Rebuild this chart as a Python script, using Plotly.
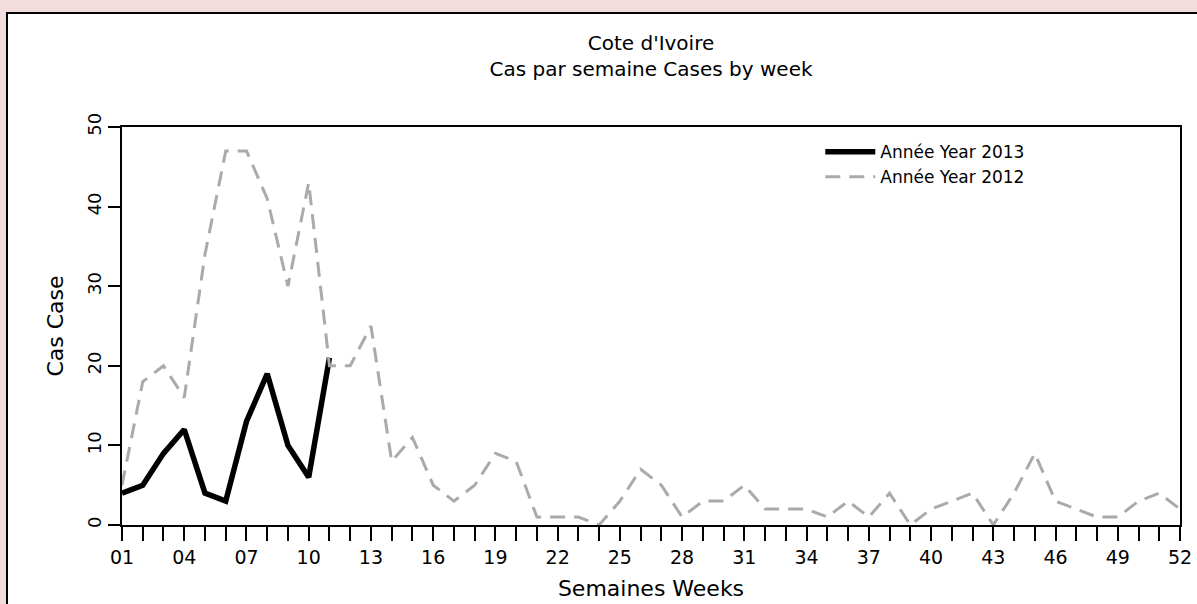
import plotly.graph_objects as go

# Weekly case counts
weeks = list(range(1, 53))
cases_2013 = [4, 5, 9, 12, 4, 3, 13, 19, 10, 6, 21]
cases_2012 = [5, 18, 20, 16, 34, 47, 47, 41, 30, 43, 20, 20, 25, 8, 11, 5, 3, 5, 9, 8,
              1, 1, 1, 0, 3, 7, 5, 1, 3, 3, 5, 2, 2, 2, 1, 3, 1, 4, 0, 2,
              3, 4, 0, 4, 9, 3, 2, 1, 1, 3, 4, 2]
x_tick_weeks = list(range(1, 53, 3))
y_ticks = [0, 10, 20, 30, 40, 50]

font_family = "DejaVu Sans, Verdana, sans-serif"

fig = go.Figure()

fig.add_trace(go.Scatter(
    x=weeks[:len(cases_2013)], y=cases_2013,
    mode="lines", name="Année Year 2013",
    line=dict(color="black", width=5.5),
))
fig.add_trace(go.Scatter(
    x=weeks, y=cases_2012,
    mode="lines", name="Année Year 2012",
    line=dict(color="#aaaaaa", width=3, dash="15px,9px"),
))

# white panel with black frame on the pink page
fig.add_shape(
    type="rect", xref="paper", yref="paper",
    x0=-0.1087, x1=1.1, y0=-0.25, y1=1.2864,
    fillcolor="white", line=dict(color="black", width=2), layer="below",
)

fig.update_layout(
    width=1197,
    height=604,
    paper_bgcolor="#f2dcdc",
    plot_bgcolor="white",
    margin=dict(l=122, r=17, t=127, b=79),
    font=dict(family=font_family, size=18, color="black"),
    title=dict(
        text="Cote d'Ivoire<br>Cas par semaine Cases by week",
        x=0.5, xref="paper", xanchor="center",
        y=0.917, yanchor="middle",
        font=dict(size=20),
    ),
    showlegend=True,
    legend=dict(
        x=0.66, y=0.982, xanchor="left", yanchor="top",
        bgcolor="rgba(0,0,0,0)",
        font=dict(size=17),
        tracegroupgap=0, itemwidth=50,
    ),
    xaxis=dict(
        range=[1, 52],
        tickmode="array",
        tickvals=weeks,
        ticktext=[("%02d" % w) if w in x_tick_weeks else "" for w in weeks],
        ticks="outside", ticklen=14, tickwidth=2, tickcolor="black",
        showline=True, linecolor="black", linewidth=2, mirror=True,
        showgrid=False, zeroline=False, automargin=False,
        tickfont=dict(size=19),
        title=dict(text="Semaines Weeks", font=dict(size=22), standoff=14),
    ),
    yaxis=dict(
        range=[0, 50],
        tickmode="array",
        tickvals=y_ticks,
        ticktext=[str(v) for v in y_ticks],
        tickangle=-90,
        ticks="outside", ticklen=12, tickwidth=2, tickcolor="black",
        showline=True, linecolor="black", linewidth=2, mirror=True,
        showgrid=False, zeroline=False, automargin=False,
        tickfont=dict(size=18),
        title=dict(text="Cas Case", font=dict(size=22), standoff=14),
    ),
)

# drop the default page margin so the figure sits at the window corner
fig.write_html(
    "out.html",
    config={"displayModeBar": False},
    post_script="document.body.style.margin='0';document.body.style.overflow='hidden';",
)
